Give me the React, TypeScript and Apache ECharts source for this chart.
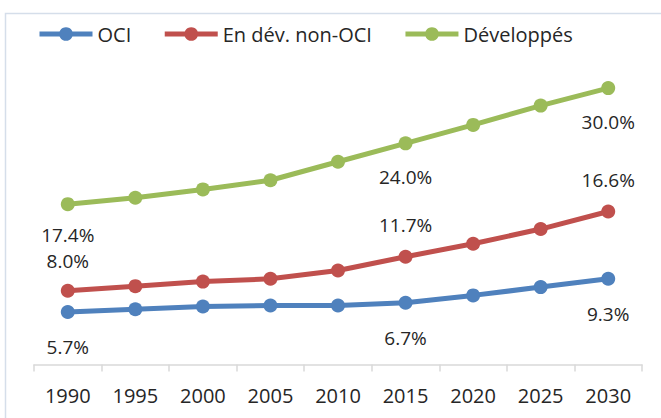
import React, { useEffect, useRef } from "react";
import * as echarts from "echarts";

const years = ["1990", "1995", "2000", "2005", "2010", "2015", "2020", "2025", "2030"];
const seriesNames = ["OCI", "En dév. non-OCI", "Développés"];
const oci = [5.7, 6.0, 6.3, 6.4, 6.4, 6.7, 7.5, 8.4, 9.3];
const nonOci = [8.0, 8.5, 9.0, 9.3, 10.2, 11.7, 13.1, 14.7, 16.6];
const developed = [17.4, 18.1, 19.0, 20.0, 22.0, 24.0, 26.0, 28.1, 30.0];
const colors = ["#4f81bd", "#c0504d", "#9bbb59"];
const labelledIdx = [0, 5, 8];
const labelPos = ["bottom", "top", "bottom"];
const labelDist = [18.5, 15.5, 17.5];
// first-point labels of the upper two series sit close together; nudge them apart
const firstLabelDist = [18.5, 13, 14.5];

const FONT = "'Open Sans', 'Noto Sans', sans-serif";

export default function App() {
  const ref = useRef<HTMLDivElement>(null);
  useEffect(() => {
    if (!ref.current) return;
    const chart = echarts.init(ref.current, null, { renderer: "svg" });
    const all = [oci, nonOci, developed];
    const series = all.map((vals, si) => ({
      name: seriesNames[si],
      type: "line",
      data: vals.map((v, i) => ({
        value: v,
        label: {
          show: labelledIdx.includes(i),
          distance: i === 0 ? firstLabelDist[si] : labelDist[si],
        },
      })),
      symbol: "circle",
      symbolSize: 14,
      lineStyle: { width: 5, color: colors[si] },
      itemStyle: { color: colors[si] },
      label: {
        show: false,
        position: labelPos[si],
        distance: labelDist[si],
        formatter: (p: any) => Number(p.value).toFixed(1) + "%",
        fontSize: 19,
        fontFamily: FONT,
        color: "#262626",
      },
      z: 3 - si,
    }));
    chart.setOption({
      animation: false,
      backgroundColor: "#ffffff",
      textStyle: { fontFamily: FONT },
      graphic: [
        {
          type: "rect",
          shape: { x: 5.5, y: 13.5, width: 800, height: 600 },
          style: { fill: "none", stroke: "#d5deea", lineWidth: 1.5 },
          silent: true,
        },
      ],
      legend: {
        left: 32,
        top: 19,
        itemWidth: 53,
        itemHeight: 17,
        itemGap: 31,
        lineStyle: { width: 5 },
        textStyle: { fontSize: 20, fontFamily: FONT, color: "#262626" },
        data: seriesNames,
      },
      grid: { left: 34, right: 19, top: 42, bottom: 53.5, containLabel: false },
      xAxis: {
        type: "category",
        data: years,
        boundaryGap: true,
        axisLine: { lineStyle: { color: "#d9d9d9", width: 1.5 } },
        axisTick: { show: true, length: 7, lineStyle: { color: "#d9d9d9", width: 1.5 } },
        axisLabel: { fontSize: 20, fontFamily: FONT, color: "#262626", margin: 21 },
      },
      yAxis: {
        type: "value",
        min: 0,
        max: 35,
        show: false,
        splitLine: { show: false },
      },
      series,
    });
    return () => chart.dispose();
  }, []);
  return (
    <div
      ref={ref}
      style={{ position: "fixed", left: 0, top: 0, width: 661, height: 418 }}
    />
  );
}
